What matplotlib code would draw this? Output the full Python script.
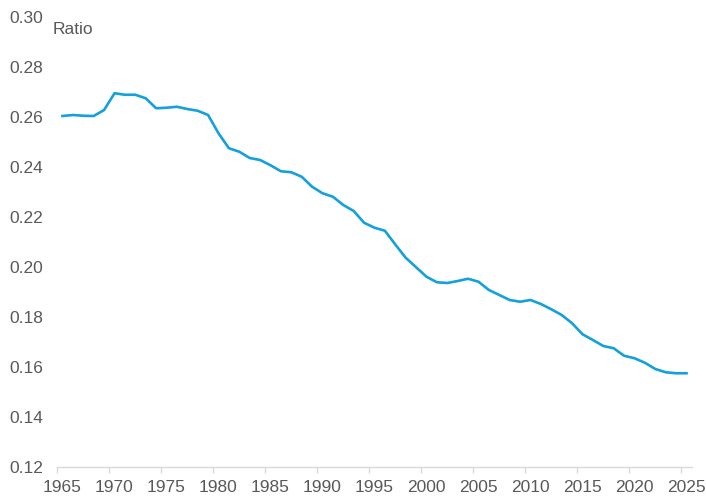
import numpy as np
import matplotlib
matplotlib.use("Agg")
import matplotlib.pyplot as plt
from matplotlib.ticker import FixedLocator

years = list(range(1965, 2026))
ratio = [
    0.2604, 0.2608, 0.2605, 0.2604, 0.2628, 0.2695, 0.2689, 0.2689, 0.2675, 0.2635,
    0.2637, 0.2641, 0.2632, 0.2625, 0.2608, 0.2535, 0.2475, 0.2461, 0.2436, 0.2428,
    0.2407, 0.2383, 0.2379, 0.2361, 0.2321, 0.2295, 0.2281, 0.2248, 0.2224, 0.2177,
    0.2157, 0.2145, 0.2090, 0.2037, 0.1999, 0.1961, 0.1939, 0.1936, 0.1944, 0.1953,
    0.1941, 0.1908, 0.1888, 0.1868, 0.1861, 0.1868, 0.1852, 0.1831, 0.1808, 0.1775,
    0.1731, 0.1708, 0.1684, 0.1675, 0.1645, 0.1635, 0.1617, 0.1592, 0.1579, 0.1575,
    0.1575,
]
x_labels = list(range(1965, 2026, 5))
y_ticks = [0.12, 0.14, 0.16, 0.18, 0.20, 0.22, 0.24, 0.26, 0.28, 0.30]

text_color = '#595959'
line_color = '#14a0dc'
plt.rcParams['font.family'] = ['Liberation Sans', 'DejaVu Sans']

fig = plt.figure(figsize=(7.06, 4.98), dpi=100)
ax = fig.add_axes([57.3 / 706, 1 - 467 / 498, (691.7 - 57.3) / 706, 450 / 498])

ax.plot(years, ratio, color=line_color, linewidth=1.9, solid_joinstyle='round')

ax.set_xlim(1964.5, 2025.5)
ax.set_ylim(0.12, 0.30)

# labels on category centres, tick marks on category boundaries
ax.xaxis.set_major_locator(FixedLocator(x_labels))
ax.xaxis.set_minor_locator(FixedLocator([y - 0.5 for y in x_labels]))
ax.set_xticklabels([str(y) for y in x_labels])
ax.tick_params(axis='x', which='major', length=0, pad=9, labelsize=12.5, labelcolor=text_color)
ax.tick_params(axis='x', which='minor', length=4, width=1, color='#d9d9d9')

ax.set_yticks(y_ticks)
ax.set_yticklabels([f'{v:.2f}' for v in y_ticks])
ax.tick_params(axis='y', length=0, pad=10, labelsize=12.5, labelcolor=text_color)

for side in ['top', 'right', 'left']:
    ax.spines[side].set_visible(False)
ax.spines['bottom'].set_color('#d9d9d9')
ax.spines['bottom'].set_linewidth(1)

fig.text(53 / 706, 1 - 29 / 498, 'Ratio', color=text_color, fontsize=12.5,
         ha='left', va='center')

fig.savefig('out.png', dpi=100)
